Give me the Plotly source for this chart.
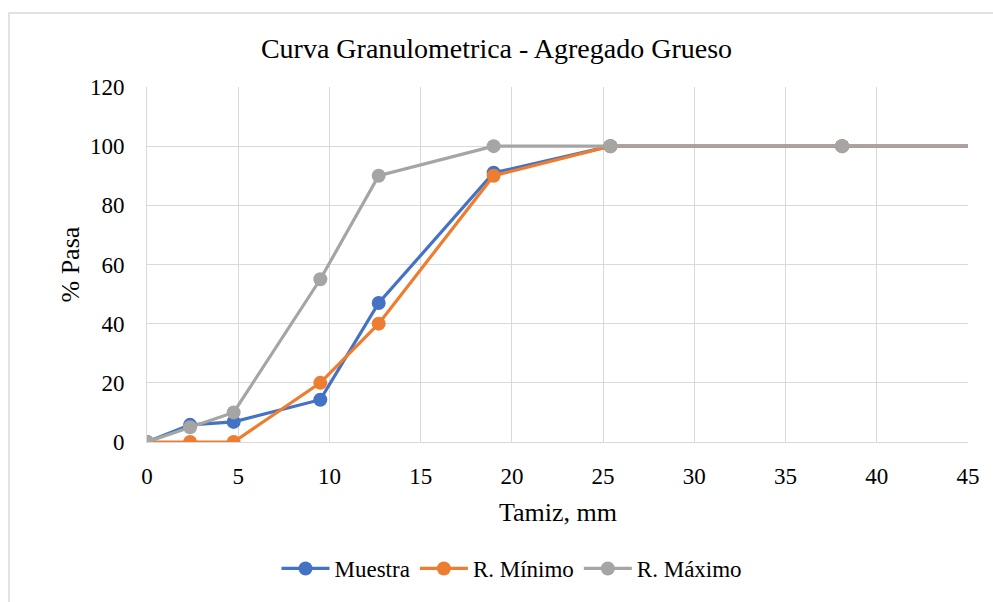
import plotly.graph_objects as go

tamiz = [0, 2.36, 4.75, 9.5, 12.7, 19, 25.4, 38.1, 50]
muestra = [0, 5.8, 6.8, 14.3, 47, 91, 100, 100, 100]
r_minimo = [0, 0, 0, 20, 40, 90, 100, 100, 100]
r_maximo = [0, 5, 10, 55, 90, 100, 100, 100, 100]

series = [
    ("Muestra", muestra, "#4472C4"),
    ("R. Mínimo", r_minimo, "#ED7D31"),
    ("R. Máximo", r_maximo, "#A5A5A5"),
]

FONT = "Liberation Serif"

fig = go.Figure()
for name, vals, col in series:
    fig.add_trace(go.Scatter(
        x=tamiz, y=vals, name=name, mode="lines+markers",
        line=dict(color=col, width=3.2),
        marker=dict(color=col, size=14),
    ))

W, H = 993, 602
L, R, T, B = 147, 968, 87, 449
pw, ph = R - L, B - T

def px_x(p):
    return (p - L) / pw

def px_y(p):
    return (B - p) / ph

fig.update_layout(
    width=W, height=H,
    margin=dict(l=L, r=W - R, t=T, b=H - B),
    paper_bgcolor="white", plot_bgcolor="white",
    font=dict(family=FONT, size=22, color="#000000"),
    title=dict(text="Curva Granulometrica - Agregado Grueso", x=0.5, xanchor="center",
               y=1 - 48 / H, yanchor="middle", font=dict(size=28, family=FONT, color="#000")),
    xaxis=dict(range=[0, 45], dtick=5, showgrid=True, gridcolor="#D9D9D9", gridwidth=1,
               zeroline=False, showline=True, linecolor="#D9D9D9", linewidth=1,
               ticks="outside", ticklen=13, tickcolor="rgba(0,0,0,0)",
               tickfont=dict(size=23, family=FONT), fixedrange=True),
    yaxis=dict(range=[0, 120], dtick=20, showgrid=True, gridcolor="#D9D9D9", gridwidth=1,
               zeroline=False, showline=True, linecolor="#D9D9D9", linewidth=1,
               ticks="outside", ticklen=17, tickcolor="rgba(0,0,0,0)",
               tickfont=dict(size=23, family=FONT), fixedrange=True),
    showlegend=True,
    legend=dict(orientation="h", x=px_x(512), xanchor="center", y=px_y(578), yanchor="middle",
                font=dict(size=23, family=FONT), bgcolor="rgba(0,0,0,0)", itemwidth=48),
    annotations=[
        dict(text="Tamiz, mm", xref="paper", yref="paper", x=px_x(558), y=px_y(521),
             xanchor="center", yanchor="middle", showarrow=False, font=dict(size=26, family=FONT)),
        dict(text="% Pasa", xref="paper", yref="paper", x=px_x(70), y=px_y(268),
             xanchor="center", yanchor="middle", showarrow=False, textangle=-90,
             font=dict(size=26, family=FONT)),
    ],
    shapes=[
        dict(type="rect", xref="paper", yref="paper", x0=px_x(9), y0=px_y(640),
             x1=px_x(1040), y1=px_y(11.5), line=dict(color="#D9D9D9", width=1.5), layer="below"),
    ],
)

fig.write_html("out.html")
